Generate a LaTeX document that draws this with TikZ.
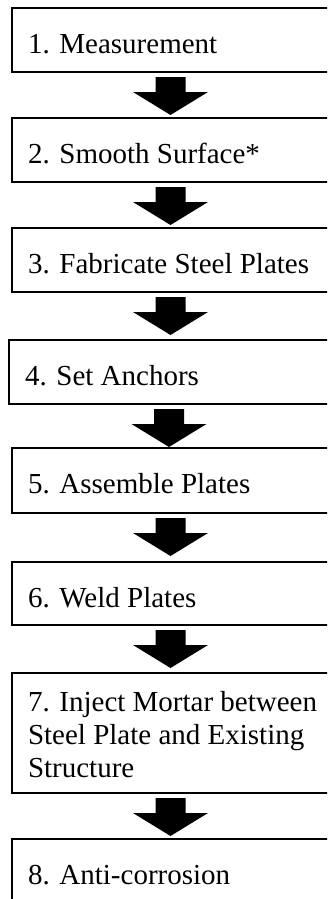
\documentclass[tikz,border=0pt]{standalone}
\usepackage{fontspec}
\setmainfont{Liberation Serif}
\usetikzlibrary{calc}
\tikzset{
  stepbox/.style={draw=black, line width=1.6pt, rectangle, inner sep=0pt, outer sep=0pt,
    anchor=north west, minimum width=317pt, minimum height=#1},
  steptext/.style={anchor=base west, inner sep=0pt, outer sep=0pt,
    font=\fontsize{29}{33.5}\selectfont},
  arrowfill/.style={fill=black, draw=none}
}
\newcommand\blockarrow[2]{%
  \fill[arrowfill] ($(#1.south)+(-15,5)$) -- ++(30,0) -- ++(0,15) -- ++(22.5,0)
    -- ($(#1.south)+(0,43)$) -- ($(#1.south)+(-37.5,20)$) -- ++(22.5,0) -- cycle;}
\begin{document}
\begin{tikzpicture}[x=1pt,y=-1pt]
\useasboundingbox (0,0) rectangle (327,899);
\clip (0,0) rectangle (327,899);
\fill[white] (0,0) rectangle (327,899);

\node[stepbox=64pt] (b1) at (12,8) {};
\node[steptext] (t1) at ($(b1.north west)+(16,45)$) {1. Measurement};

\node[stepbox=64pt] (b2) at (12,118) {};
\node[steptext] (t2) at ($(b2.north west)+(16,45)$) {2. Smooth Surface*};

\node[stepbox=64pt] (b3) at (12,228) {};
\node[steptext] (t3) at ($(b3.north west)+(16,45)$) {3. Fabricate Steel Plates};

\node[stepbox=64pt, minimum width=320pt] (b4) at (9,340) {};
\node[steptext] (t4) at ($(b4.north west)+(16,45)$) {4. Set Anchors};

\node[stepbox=65pt] (b5) at (12,448) {};
\node[steptext] (t5) at ($(b5.north west)+(16,45)$) {5. Assemble Plates};

\node[stepbox=63pt] (b6) at (12,562) {};
\node[steptext] (t6) at ($(b6.north west)+(16,45)$) {6. Weld Plates};

\node[stepbox=120pt] (b7) at (12,673) {};
\node[steptext] (t7a) at ($(b7.north west)+(16,38)$) {7. Inject Mortar between};
\node[steptext] (t7b) at ($(b7.north west)+(16,71)$) {Steel Plate and Existing};
\node[steptext] (t7c) at ($(b7.north west)+(16,104)$) {Structure};

\node[stepbox=110pt] (b8) at (12,839) {};
\node[steptext] (t8) at ($(b8.north west)+(16,45)$) {8. Anti-corrosion};

\blockarrow{b1}{b2}
\blockarrow{b2}{b3}
\blockarrow{b3}{b4}
\blockarrow{b4}{b5}
\blockarrow{b5}{b6}
\blockarrow{b6}{b7}
\blockarrow{b7}{b8}
\end{tikzpicture}
\end{document}
